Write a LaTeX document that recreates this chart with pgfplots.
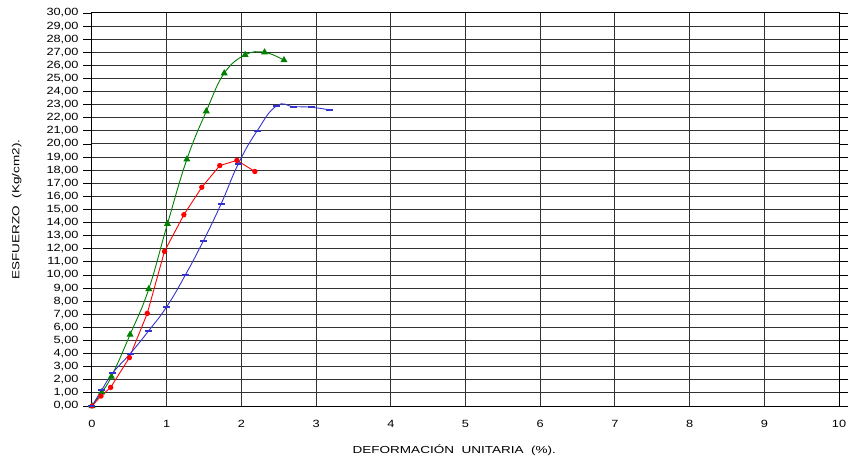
\documentclass[border=0pt]{standalone}
\usepackage{pgfplots}
\pgfplotsset{compat=1.18}
\usepackage{fontspec}
\setmainfont{Liberation Sans}
\newfontfamily\tickfont{Liberation Sans}[FakeStretch=1.22]
\newfontfamily\labfont{Liberation Sans}[FakeStretch=1.33]
\definecolor{cgreen}{RGB}{0,128,0}
\definecolor{cred}{RGB}{255,0,0}
\definecolor{cblue}{RGB}{51,51,204}
\begin{document}
\begin{tikzpicture}
\begin{axis}[
  scale only axis,
  width=747bp, height=393bp,
  xmin=0, xmax=10, ymin=0, ymax=30,
  xtick={0,1,...,10}, ytick={0,1,...,30},
  grid=major,
  major grid style={black!80, line width=1.0pt},
  axis line style={black, line width=1.0pt},
  tick align=outside,
  every x tick/.style={draw=none},
  ytick style={black, line width=0.9pt},
  major tick length=9bp,
  /pgf/number format/assume math mode=true,
  yticklabel style={xshift=-1bp, /pgf/number format/fixed, /pgf/number format/fixed zerofill, /pgf/number format/precision=2, /pgf/number format/use comma},
  xticklabel style={yshift=-2bp, /pgf/number format/fixed, /pgf/number format/precision=0},
  tick label style={font=\tickfont\fontsize{10.5}{11}\selectfont},
  label style={font=\labfont\fontsize{10.2}{11}\selectfont},
  xlabel={DEFORMACIÓN\ \ UNITARIA\ \ (\%).},
  ylabel={ESFUERZO\ \ (Kg/cm2).},
  xlabel style={at={(axis description cs:0.485,0)}, anchor=north, yshift=-35bp},
  ylabel style={at={(axis description cs:0,0.5)}, anchor=south, yshift=67bp},
  clip=false,
]
\addplot[cgreen, line width=0.9pt, smooth, tension=0.7, mark=triangle*, mark size=3.2bp, mark options={solid}] coordinates {
(0,0) (0.13,1.05) (0.26,2.24) (0.51,5.45) (0.76,8.93) (1.01,13.9) (1.27,18.83) (1.53,22.5) (1.77,25.4) (2.05,26.8) (2.31,27.0) (2.57,26.4)
};
\addplot[cred, line width=0.9pt, mark=*, mark size=2.2bp] coordinates {
(0,0) (0.12,0.76) (0.25,1.42) (0.50,3.69) (0.74,7.07) (0.97,11.8) (1.23,14.6) (1.47,16.7) (1.71,18.35) (1.94,18.75) (2.18,17.9)
};
\addplot[cblue, line width=0.9pt, smooth, tension=0.8, mark=-, mark size=3.5bp, mark options={line width=2.2bp}] coordinates {
(0,0) (0.13,1.22) (0.28,2.54) (0.51,3.99) (0.76,5.75) (1.00,7.58) (1.25,10.0) (1.49,12.6) (1.73,15.45) (1.96,18.5) (2.21,21.0) (2.47,22.9) (2.70,22.85) (2.94,22.8) (3.18,22.6)
};
\end{axis}
\pgfresetboundingbox
\path ([xshift=-92bp,yshift=-57bp]current axis.south west) rectangle ([xshift=10bp,yshift=13bp]current axis.north east);
\end{tikzpicture}
\end{document}
